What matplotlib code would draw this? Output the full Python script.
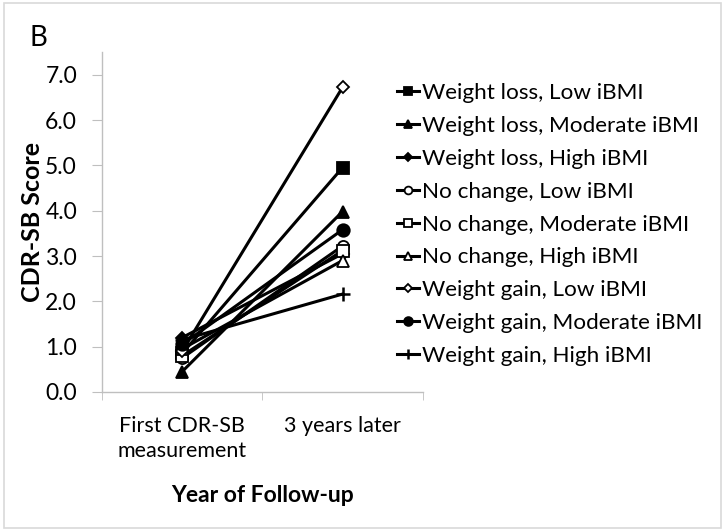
import matplotlib
matplotlib.use("Agg")
import matplotlib.pyplot as plt
from matplotlib.patches import Rectangle

categories = ["First CDR-SB\nmeasurement", "3 years later"]
series_names = [
    "Weight loss, Low iBMI",
    "Weight loss, Moderate iBMI",
    "Weight loss, High iBMI",
    "No change, Low iBMI",
    "No change, Moderate iBMI",
    "No change, High iBMI",
    "Weight gain, Low iBMI",
    "Weight gain, Moderate iBMI",
    "Weight gain, High iBMI",
]
wl_low = [0.85, 4.95]
wl_mod = [0.45, 3.98]
wl_high = [1.20, 3.05]
nc_low = [0.75, 3.22]
nc_mod = [0.80, 3.12]
nc_high = [0.95, 2.90]
wg_low = [0.90, 6.72]
wg_mod = [1.05, 3.58]
wg_high = [1.15, 2.16]
values = [wl_low, wl_mod, wl_high, nc_low, nc_mod, nc_high, wg_low, wg_mod, wg_high]
yticks = [0, 1, 2, 3, 4, 5, 6, 7]

styles = [
    dict(marker="s", mfc="black", ms=8),
    dict(marker="^", mfc="black", ms=9),
    dict(marker="D", mfc="black", ms=6),
    dict(marker="o", mfc="white", ms=8),
    dict(marker="s", mfc="white", ms=8),
    dict(marker="^", mfc="white", ms=9),
    dict(marker="D", mfc="white", ms=6),
    dict(marker="o", mfc="black", ms=9),
    dict(marker="+", mfc="black", ms=10, mew=1.8),
]

plt.rcParams["font.family"] = ["Lato", "DejaVu Sans"]
fig = plt.figure(figsize=(7.25, 5.31), dpi=100)
ax = fig.add_axes([0.1407, 0.2618, 0.583 - 0.1407, 0.902 - 0.2618])

x = list(range(len(categories)))
for name, vals, st in zip(series_names, values, styles):
    kw = dict(color="black", lw=2.2, mec="black", mew=1.3)
    kw.update(st)
    ax.plot(x, vals, label=name, **kw)

ax.set_xlim(-0.5, 1.5)
ax.set_ylim(0, 7.5)
ax.set_yticks(yticks)
ax.set_yticklabels([f"{v:.1f}" for v in yticks], fontsize=16.5)
ax.set_xticks(x)
ax.set_xticklabels(categories, fontsize=15.5, linespacing=1.35)
ax.set_xticks([-0.5, 0.5, 1.5], minor=True)
ax.tick_params(axis="x", which="major", length=0, pad=17)
ax.tick_params(axis="x", which="minor", length=6, color="#BFBFBF", direction="out")
ax.tick_params(axis="y", length=7, color="#BFBFBF", direction="out", pad=11)
for s in ["top", "right"]:
    ax.spines[s].set_visible(False)
for s in ["left", "bottom"]:
    ax.spines[s].set_color("#BFBFBF")
    ax.spines[s].set_linewidth(1.0)

ax.set_ylabel("CDR-SB Score", fontsize=18, fontweight="bold", labelpad=1)
ax.set_xlabel("Year of Follow-up", fontsize=16.5, fontweight="bold", labelpad=17)

fig.text(0.041, 0.928, "B", fontsize=20, ha="left", va="center")

fig.legend(loc="upper left", bbox_to_anchor=(0.535, 0.86), frameon=False,
           fontsize=16.2, handlelength=1.0, handletextpad=0.1, labelspacing=0.57,
           markerscale=0.7, borderaxespad=0)

fig.patches.append(Rectangle((0.006, 0.006), 0.988, 0.988, transform=fig.transFigure,
                             fill=False, edgecolor="#D9D9D9", lw=1.2))

fig.savefig("out.png", dpi=100)
